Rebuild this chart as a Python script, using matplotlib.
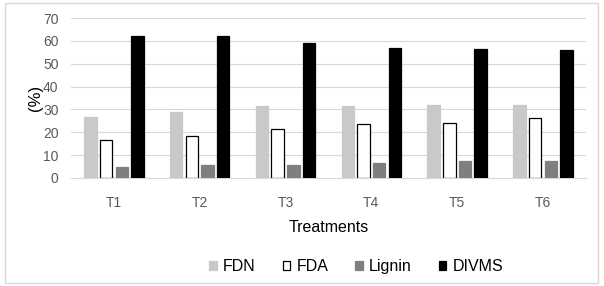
import numpy as np
import matplotlib
matplotlib.use('Agg')
import matplotlib.pyplot as plt
from matplotlib.patches import Rectangle

# values
treatments = ["T1", "T2", "T3", "T4", "T5", "T6"]
fdn = [26.5, 28.8, 31.5, 31.5, 31.7, 31.7]
fda = [16.8, 18.5, 21.4, 23.5, 24.2, 26.1]
lignin = [4.8, 5.5, 5.5, 6.4, 7.2, 7.2]
divms = [62.0, 62.0, 58.9, 56.9, 56.6, 56.2]

series = [("FDN", fdn, "#c9c9c9", "#c9c9c9"),
          ("FDA", fda, "white", "black"),
          ("Lignin", lignin, "#7f7f7f", "#7f7f7f"),
          ("DIVMS", divms, "black", "black")]

plt.rcParams['font.family'] = ['Liberation Sans', 'DejaVu Sans']

fig = plt.figure(figsize=(6.04, 2.86), dpi=100)
ax = fig.add_axes([0.1175, 0.378, 0.8525, 0.559])

x = np.arange(len(treatments))
pitch = 0.183
width = 0.145
for i, (name, vals, fc, ec) in enumerate(series):
    ax.bar(x + (i - 1.5) * pitch, vals, width, color=fc, edgecolor=ec,
           linewidth=0.9, label=name, zorder=3)

ax.set_xlim(-0.5, len(treatments) - 0.5)
ax.set_ylim(0, 70)
ax.set_yticks(range(0, 71, 10))
ax.set_xticks(x)
ax.set_xticklabels(treatments)
ax.grid(axis='y', color='#d9d9d9', linewidth=0.8, zorder=0)
for s in ['top', 'right', 'left']:
    ax.spines[s].set_visible(False)
ax.spines['bottom'].set_color('#d9d9d9')
ax.tick_params(axis='both', length=0, labelsize=10, colors='#595959')
ax.tick_params(axis='x', pad=13)
ax.tick_params(axis='y', pad=9)
ax.set_ylabel("(%)", fontsize=12, labelpad=0)
ax.set_xlabel("Treatments", fontsize=11.5, labelpad=7)

handles, labels = ax.get_legend_handles_labels()
fig.legend(handles, labels, loc='center', bbox_to_anchor=(0.59, 0.067),
           ncol=4, frameon=False, fontsize=11.5, handlelength=0.45,
           handleheight=0.45, handletextpad=0.4, columnspacing=1.7)

fig.patches.append(Rectangle((0.008, 0.01), 0.982, 0.978, transform=fig.transFigure,
                             fill=False, edgecolor='#d9d9d9', linewidth=1))

fig.savefig("out.png", dpi=100)
